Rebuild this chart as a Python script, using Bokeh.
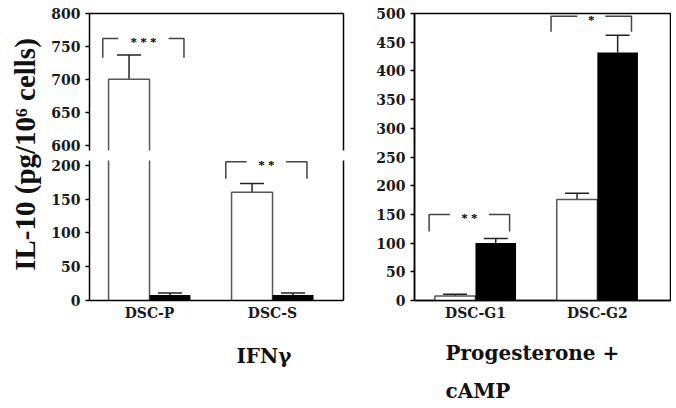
from bokeh.plotting import figure
from bokeh.layouts import row, column
from bokeh.models import (Range1d, FixedTicker, LinearAxis, ColumnDataSource,
                          Whisker, TeeHead, LabelSet, Label)
from bokeh.core.properties import value
from bokeh.embed import file_html
from bokeh.resources import INLINE

# ---------------- data ----------------
left_categories = ["DSC-P", "DSC-S"]
left_white = [700, 160]
left_white_err = [737, 173]
left_black = [8, 8]
left_black_err = [11, 11]
left_sig = ["***", "**"]
left_sig_y = [762, 205]
left_sig_leg = [733, 180]

right_categories = ["DSC-G1", "DSC-G2"]
right_white = [8, 176]
right_white_err = [11, 187]
right_black = [100, 432]
right_black_err = [108, 462]
right_sig = ["**", "*"]
right_sig_y = [150, 495]
right_sig_leg = [120, 468]

left_upper_ticks = [600, 650, 700, 750, 800]
left_lower_ticks = [0, 50, 100, 150, 200]
right_ticks = [0, 50, 100, 150, 200, 250, 300, 350, 400, 450, 500]

y_title = "IL-10 (pg/10\u2076 cells)"
left_group_title = "IFN\u03b3"
right_group_title = ["Progesterone +", "cAMP"]

FONT = "Liberation Serif"
WFONT = "DejaVu Serif"
BW = 0.333


def style_y(ax, ticks):
    ax.ticker = FixedTicker(ticks=ticks)
    ax.major_label_text_font = WFONT
    ax.major_label_text_font_style = "bold"
    ax.major_label_text_font_size = "14px"
    ax.major_label_text_color = "#1a1a1a"
    ax.major_tick_out = 4
    ax.major_tick_in = 0
    ax.minor_tick_out = 0
    ax.minor_tick_in = 0
    ax.major_label_standoff = 5
    ax.axis_line_width = 1.5
    ax.major_tick_line_width = 1.5


def style_x(ax, centers, cats):
    ax.ticker = FixedTicker(ticks=centers)
    ax.major_label_overrides = {c: n for c, n in zip(centers, cats)}
    ax.major_label_text_font = WFONT
    ax.major_label_text_font_style = "bold"
    ax.major_label_text_font_size = "14px"
    ax.major_label_text_color = "#1a1a1a"
    ax.major_tick_out = 0
    ax.major_tick_in = 0
    ax.minor_tick_out = 0
    ax.minor_tick_in = 0
    ax.major_label_standoff = 4
    ax.axis_line_width = 1.5


def border_axis():
    return LinearAxis(ticker=FixedTicker(ticks=[]), major_tick_out=0, major_tick_in=0,
                      minor_tick_out=0, minor_tick_in=0, major_label_standoff=0,
                      major_label_text_font_size="0px", axis_line_width=1.5)


def draw(p, cats, white, white_err, black, black_err, sig, sig_y, sig_leg, ymin, ymax):
    centers = [i + 0.5 for i in range(len(cats))]
    n = len(cats)
    for vals, errs, off, is_white in ((white, white_err, -BW / 2, True),
                                      (black, black_err, BW / 2, False)):
        idx = [i for i in range(n) if errs[i] > ymin]
        if not idx:
            continue
        xs = [centers[i] + off for i in idx]
        tops = [vals[i] for i in idx]
        src = ColumnDataSource(dict(x=xs, top=tops))
        p.vbar(x="x", top="top", bottom=0, width=BW, source=src,
               fill_color="white" if is_white else "black", line_color=None)
        if is_white:
            ox = [[x - BW / 2, x - BW / 2, x + BW / 2, x + BW / 2] for x in xs]
            oy = [[0, t, t, 0] for t in tops]
            p.multi_line(xs=ox, ys=oy, line_color="#555555", line_width=1.5)
        widx = [i for i in idx if vals[i] < ymax]
        if widx:
            ws = ColumnDataSource(dict(x=[centers[i] + off for i in widx],
                                       lo=[vals[i] for i in widx],
                                       hi=[errs[i] for i in widx]))
            p.add_layout(Whisker(source=ws, base="x", lower="lo", upper="hi",
                                 upper_head=TeeHead(size=24, line_width=1.5,
                                                    line_color="#222222"),
                                 lower_head=None, line_width=1.5, line_color="#222222"))
    bx, by, tx, ty, tt = [], [], [], [], []
    for c, s, y, leg in zip(centers, sig, sig_y, sig_leg):
        if not (ymin < y < ymax):
            continue
        x0, x1 = c - 0.38, c + 0.28
        mid = (x0 + x1) / 2
        half = 0.07 + 0.045 * len(s)
        bx += [[x0, x0, mid - half], [mid + half, x1, x1]]
        by += [[leg, y, y], [y, y, leg]]
        tx.append(mid)
        ty.append(y)
        tt.append(" ".join(list(s)))
    if bx:
        p.multi_line(xs=bx, ys=by, line_color="#444444", line_width=1.5)
        st = ColumnDataSource(dict(x=tx, y=ty, text=tt))
        p.add_layout(LabelSet(x="x", y="y", text="text", source=st, text_align="center",
                              text_baseline="middle", y_offset=-3,
                              text_font=value(FONT), text_font_style="bold",
                              text_font_size="13px", text_color="black"))


common = dict(output_backend="svg", toolbar_location=None)


def text_fig(w, h, fw=None):
    f = figure(width=w, height=h, x_range=Range1d(0, fw or w), y_range=Range1d(0, h),
               x_axis_location=None, y_axis_location=None, min_border=0,
               outline_line_color=None, **common)
    f.grid.visible = False
    return f


def title_label(x, y, text, size="20px", font=WFONT, **kw):
    return Label(x=x, y=y, text=text, text_baseline="middle", text_font=font,
                 text_font_style="bold", text_font_size=size, text_color="#111111", **kw)


# ---- y-title strip ----
tf = text_fig(48, 406)
tf.add_layout(title_label(24, 406 - 154, y_title, size="29px", font=FONT, angle=90,
                          angle_units="deg", text_align="center"))

# ---- left panel: upper part ----
xr_left = Range1d(0.012, 2.077)
UP = (592, 800)
LO = (0, 207)
pu = figure(width=307, height=155, x_range=xr_left, y_range=Range1d(*UP),
            x_axis_location=None, min_border_left=41, min_border_right=12,
            min_border_top=13, min_border_bottom=5, outline_line_color=None, **common)
pu.grid.visible = False
style_y(pu.yaxis[0], left_upper_ticks)
pu.add_layout(border_axis(), "above")
pu.add_layout(border_axis(), "right")
draw(pu, left_categories, left_white, left_white_err, left_black, left_black_err,
     left_sig, left_sig_y, left_sig_leg, *UP)

# ---- left panel: lower part ----
pl = figure(width=307, height=175, x_range=xr_left, y_range=Range1d(*LO),
            min_border_left=41, min_border_right=12, min_border_top=5,
            min_border_bottom=30, outline_line_color=None, **common)
pl.grid.visible = False
style_y(pl.yaxis[0], left_lower_ticks)
style_x(pl.xaxis[0], [0.5, 1.5], left_categories)
pl.add_layout(border_axis(), "right")
draw(pl, left_categories, left_white, left_white_err, left_black, left_black_err,
     left_sig, left_sig_y, left_sig_leg, *LO)

# text strip under left panel (its frame is aligned with the panel frame: 254 px)
tl = text_fig(307, 76, fw=254)
tl.add_layout(title_label(147, 51, left_group_title, text_align="left"))

# ---- right panel ----
YR = (0, 500)
pr = figure(width=316, height=330, x_range=Range1d(0, 2.1), y_range=Range1d(*YR),
            min_border_left=59, min_border_right=1, min_border_top=13,
            min_border_bottom=30, outline_line_color="black", outline_line_width=1.5,
            **common)
pr.grid.visible = False
style_y(pr.yaxis[0], right_ticks)
style_x(pr.xaxis[0], [0.5, 1.5], right_categories)
draw(pr, right_categories, right_white, right_white_err, right_black, right_black_err,
     right_sig, right_sig_y, right_sig_leg, *YR)

tr = text_fig(316, 76, fw=256)
tr.add_layout(title_label(31, 54, right_group_title[0], text_align="left"))
tr.add_layout(title_label(31, 16, right_group_title[1], text_align="left"))

layout = row(tf, column(pu, pl, tl), column(pr, tr))
open("out.html", "w").write(file_html(layout, INLINE))
